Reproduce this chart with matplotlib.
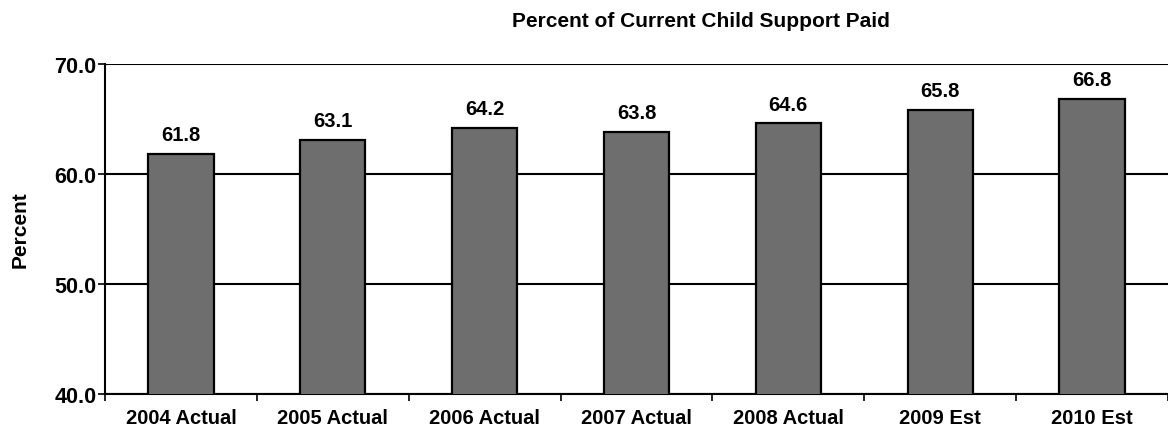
import matplotlib
matplotlib.use("Agg")
import matplotlib.pyplot as plt
import numpy as np

plt.rcParams['font.family'] = ['Liberation Sans', 'DejaVu Sans']

categories = ["2004 Actual", "2005 Actual", "2006 Actual", "2007 Actual",
              "2008 Actual", "2009 Est", "2010 Est"]
values = [61.8, 63.1, 64.2, 63.8, 64.6, 65.8, 66.8]
y_ticks = [40.0, 50.0, 60.0, 70.0]

fig = plt.figure(figsize=(11.68, 4.31), dpi=100)
ax = fig.add_axes([0.0899, 0.0835, 0.9101, 0.7655])

x = np.arange(len(categories))
ax.bar(x, values, width=0.43, color="#6e6e6e", edgecolor="black",
       linewidth=1.6, zorder=3)

for xi, v in zip(x, values):
    ax.text(xi, v + 0.9, f"{v:.1f}", ha="center", va="bottom",
            fontsize=14.5, fontweight="bold")

ax.set_xlim(-0.5, len(categories) - 0.5)
ax.set_ylim(40, 70)
ax.set_yticks(y_ticks)
ax.set_yticklabels([f"{t:.1f}" for t in y_ticks], fontsize=15.5, fontweight="bold")
ax.set_xticks(x)
ax.set_xticklabels(categories, fontsize=14.5, fontweight="bold")
ax.tick_params(axis="x", which="major", length=0, pad=10)
ax.set_xticks(np.arange(-0.5, len(categories), 1.0), minor=True)
ax.tick_params(axis="x", which="minor", length=5, width=1.2, direction="out")
ax.tick_params(axis="y", length=5, width=1.2, pad=1)

ax.yaxis.grid(True, color="black", linewidth=1.5, zorder=1)
ax.set_axisbelow(True)
for side in ["top", "right"]:
    ax.spines[side].set_visible(False)
for side in ["left", "bottom"]:
    ax.spines[side].set_linewidth(1.5)

ax.set_ylabel("Percent", fontsize=15, fontweight="bold", labelpad=18)
fig.text(0.6, 0.95, "Percent of Current Child Support Paid", ha="center",
         va="center", fontsize=15, fontweight="bold")

fig.savefig("out.png", dpi=100)
